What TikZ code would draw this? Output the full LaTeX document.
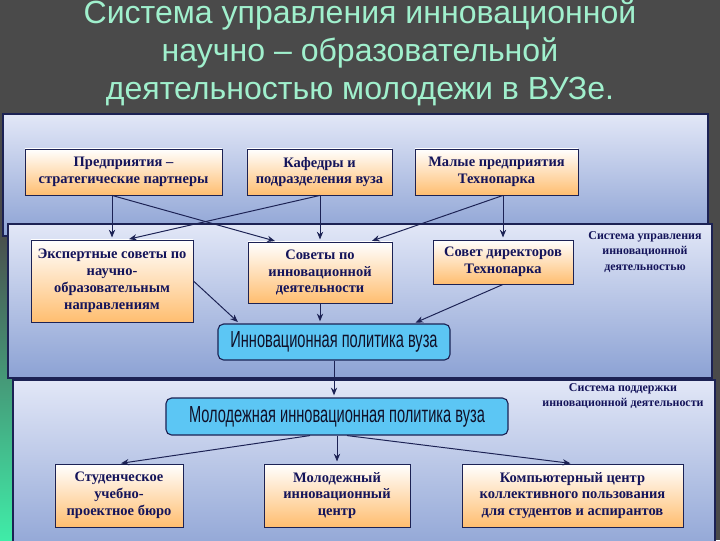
\documentclass[tikz,border=0pt]{standalone}
\usepackage{fontspec}
\usepackage{graphicx}
\setmainfont{Liberation Serif}
\newfontfamily\titlefont{Liberation Sans}
\newfontfamily\narrowfont[FakeStretch=0.63]{Liberation Sans}
\usetikzlibrary{arrows.meta,calc}
\newcommand\pxu{0.7113pt}

\definecolor{slidebg}{RGB}{74,74,74}
\definecolor{titlegreen}{RGB}{160,240,205}
\definecolor{paneltop}{RGB}{226,231,247}
\definecolor{panelbot}{RGB}{140,162,212}
\definecolor{navy}{RGB}{28,34,84}
\definecolor{inktext}{RGB}{20,20,90}
\definecolor{boxorange}{RGB}{255,190,112}
\definecolor{policyblue}{RGB}{92,198,244}
\definecolor{mint}{RGB}{64,236,168}

\tikzset{
  panel/.style={draw=navy, line width=1.2pt, top color=paneltop, bottom color=panelbot},
  unitbox/.style={draw=navy, line width=0.6pt, top color=white, bottom color=boxorange,
    inner sep=0pt, align=center, text=inktext, font=\bfseries\fontsize{10.3pt}{12pt}\selectfont},
  policy/.style={draw=navy, line width=0.8pt, rounded corners=4pt, fill=policyblue,
    inner sep=0pt, text={rgb,255:red,16;green,16;blue,40}, font=\narrowfont\fontsize{16.5pt}{18pt}\selectfont},
  note/.style={align=center, text=inktext, font=\bfseries\fontsize{8.5pt}{11pt}\selectfont},
  link/.style={draw=navy, line width=0.7pt, -{Stealth[length=5.5pt,width=4.5pt]}, shorten >=1.5pt},
}

\begin{document}
\begin{tikzpicture}[x=0.025cm, y=-0.025cm]
    % Slide
    \useasboundingbox (0,0) rectangle (720,540);
    \fill[slidebg] (0,0) rectangle (720,540);
    \clip (0,0) rectangle (720,540);
    \shade[top color=slidebg, bottom color=mint] (0,225) rectangle (14,540);

    % Title
    \node[font=\titlefont\fontsize{22.8pt}{27pt}\selectfont, text=titlegreen, align=center] (title) at (360,53)
        {Система управления инновационной\\научно – образовательной\\деятельностью молодежи в ВУЗе.};

    % Panels
    \draw[panel] (3,114) rectangle (708,236);
    \draw[panel] (8,224) rectangle (712,378);
    \draw[panel] (13,380) rectangle (715,560);

    % Partners
    \node[unitbox, minimum width=197*\pxu, minimum height=46*\pxu] (firms) at (123.5,172) {Предприятия –\\стратегические партнеры};
    \node[unitbox, minimum width=145*\pxu, minimum height=46*\pxu] (chairs) at (319.5,172) {Кафедры и\\подразделения вуза};
    \node[unitbox, minimum width=163*\pxu, minimum height=46*\pxu] (small) at (496.5,172) {Малые предприятия\\Технопарка};

    % Management
    \node[unitbox, minimum width=162*\pxu, minimum height=82*\pxu] (experts) at (112,281) {Экспертные советы по\\научно-\\образовательным\\направлениям};
    \node[unitbox, minimum width=144*\pxu, minimum height=61*\pxu] (councils) at (320,272.5) {Советы по\\инновационной\\деятельности};
    \node[unitbox, minimum width=140*\pxu, minimum height=44*\pxu] (board) at (503,262) {Совет директоров\\Технопарка};
    \node[note] (mgmt) at (645,252) {Система управления\\инновационной\\деятельностью};
    \node[policy, minimum width=232*\pxu, minimum height=36*\pxu] (policy) at (334,342) {Инновационная политика вуза};

    % Support
    \node[policy, minimum width=342*\pxu, minimum height=37*\pxu] (youth) at (337,416.5) {Молодежная инновационная политика вуза};
    \node[note] (support) at (623,396) {Система поддержки\\инновационной деятельности};
    \node[unitbox, minimum width=128*\pxu, minimum height=63*\pxu] (bureau) at (119,495.5) {Студенческое\\учебно-\\проектное бюро};
    \node[unitbox, minimum width=146*\pxu, minimum height=63*\pxu] (centre) at (337,495.5) {Молодежный\\инновационный\\центр};
    \node[unitbox, minimum width=221*\pxu, minimum height=63*\pxu] (computing) at (572.5,495.5) {Компьютерный центр\\коллективного пользования\\для студентов и аспирантов};

    % Links
    \draw[link] (firms.south -| experts.north) -- (experts.north);
    \draw[link] (firms.south -| experts.north) -- ($(councils.north)+(-43,0)$);
    \draw[link] (chairs.south -| councils.north) -- ($(experts.north)+(15,0)$);
    \draw[link] (chairs.south -| councils.north) -- (councils.north);
    \draw[link] (small.south -| board.north) -- ($(councils.north)+(50,0)$);
    \draw[link] (small.south -| board.north) -- (board.north);
    \draw[link] (experts.east) -- ($(policy.north west)+(22,0)$);
    \draw[link] (councils.south) -- (councils.south |- policy.north);
    \draw[link] (board.south) -- ($(policy.north east)+(-37,0)$);
    \draw[link] (policy.south) -- (policy.south |- youth.north);
    \draw[link] ($(youth.south)+(-27,0)$) -- (bureau.north);
    \draw[link] (youth.south) -- (centre.north);
    \draw[link] ($(youth.south)+(10,0)$) -- (computing.north);
\end{tikzpicture}
\end{document}
